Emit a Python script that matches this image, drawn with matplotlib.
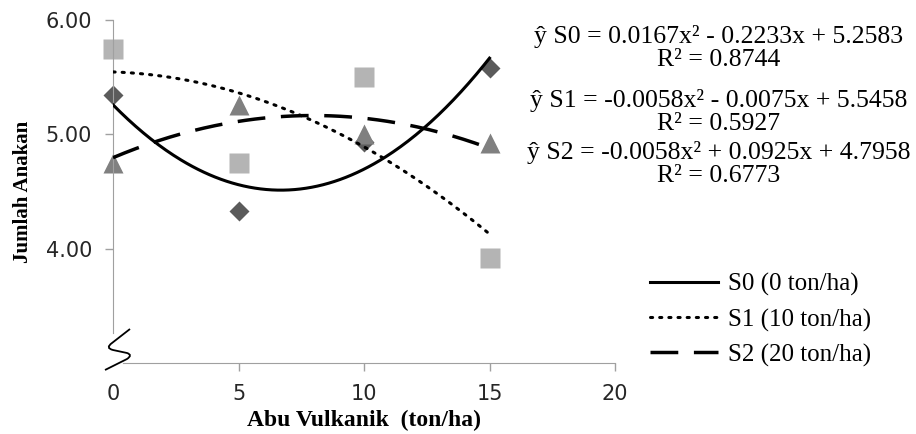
import numpy as np
import matplotlib
matplotlib.use('Agg')
import matplotlib.pyplot as plt
from matplotlib.path import Path
from matplotlib.patches import PathPatch

# =============================================================================
# Data
# =============================================================================

abu = [0, 5, 10, 15]                       # Abu Vulkanik (ton/ha)
s0 = [5.34, 4.33, 4.93, 5.58]             # S0 (0 ton/ha)
s1 = [5.75, 4.75, 5.50, 3.92]             # S1 (10 ton/ha)
s2 = [4.75, 5.26, 5.00, 4.92]             # S2 (20 ton/ha)

# quadratic trend lines (a, b, c) as printed on the chart
coef_s0 = [0.0167, -0.2233, 5.2583]
coef_s1 = [-0.0058, -0.0075, 5.5458]
coef_s2 = [-0.0058, 0.0925, 4.7958]

eq_lines = ['ŷ S0 = 0.0167x² - 0.2233x + 5.2583', 'R² = 0.8744',
            'ŷ S1 = -0.0058x² - 0.0075x + 5.5458', 'R² = 0.5927',
            'ŷ S2 = -0.0058x² + 0.0925x + 4.7958', 'R² = 0.6773']
labels = ['S0 (0 ton/ha)', 'S1 (10 ton/ha)', 'S2 (20 ton/ha)']

x_ticks = [0, 5, 10, 15, 20]
y_ticks = [4.0, 5.0, 6.0]

# =============================================================================
# Plot
# =============================================================================

W, H = 916, 434
fig = plt.figure(figsize=(W / 100, H / 100), dpi=100)
ax_l, ax_b = 113 / W, 1 - 363 / H
ax = fig.add_axes([ax_l, ax_b, (615 - 113) / W, (363 - 20) / H])

serif = 'Liberation Serif'
axis_col = '#a0a0a0'

ax.plot(abu, s0, 'D', ms=10.5, color='#5b5b5b', mec='none', zorder=2,
        clip_on=False)
ax.plot(abu, s1, 's', ms=14, color='#b4b4b4', mec='none', zorder=2,
        clip_on=False)
ax.plot(abu, s2, '^', ms=15, color='#808080', mec='none', zorder=2,
        clip_on=False)

xx = np.linspace(0, 15, 200)
l0, = ax.plot(xx, np.polyval(coef_s0, xx), color='black', lw=2.2, zorder=3)
l1, = ax.plot(xx, np.polyval(coef_s1, xx), color='black', lw=2.2, zorder=3,
              dashes=(0.7, 2.3), dash_capstyle='round')
l2, = ax.plot(xx, np.polyval(coef_s2, xx), color='black', lw=2.5, zorder=3,
              dashes=(8, 4.5))

ax.set_xlim(0, 20)
ax.set_ylim(3.0, 6.0)
ax.set_xticks(x_ticks)
ax.set_yticks(y_ticks)
ax.set_yticklabels([f'{v:.2f}' for v in y_ticks])
ax.tick_params(axis='both', colors=axis_col, labelcolor='#262626',
               labelsize=15, length=6, width=1)
ax.tick_params(axis='x', pad=9)
ax.tick_params(axis='y', pad=9)
ax.xaxis.get_major_ticks()[0].tick1line.set_visible(False)

for side in ['top', 'right']:
    ax.spines[side].set_visible(False)
ax.spines['left'].set_color(axis_col)
ax.spines['bottom'].set_color(axis_col)
ax.spines['left'].set_bounds(3.26, 6.0)
ax.spines['bottom'].set_bounds(0.4, 20)

# axis break mark (pixel offsets from axes origin)
pts = [(17, 34), (-1, 20), (-8, 15), (0, 13), (14, 10), (20, 8), (14, 4), (-8, -7)]
codes = [Path.MOVETO, Path.LINETO, Path.CURVE3, Path.CURVE3,
         Path.LINETO, Path.CURVE3, Path.CURVE3, Path.LINETO]
verts = [(ax_l + px / W, ax_b + py / H) for px, py in pts]
fig.add_artist(PathPatch(Path(verts, codes), fill=False, lw=1.3,
                         edgecolor='black', transform=fig.transFigure,
                         clip_on=False))

ax.set_xlabel('Abu Vulkanik  (ton/ha)', family=serif, weight='bold',
              fontsize=17, labelpad=4)
ax.set_ylabel('Jumlah Anakan', family=serif, weight='bold', fontsize=15,
              labelpad=9)

# trend equations
eq_y = [36, 60, 100, 124, 152, 176]
for txt, py in zip(eq_lines, eq_y):
    fig.text(719 / W, 1 - py / H, txt, family=serif, fontsize=18.5,
             ha='center', va='center')

leg = ax.legend([l0, l1, l2], labels, loc='center left',
                bbox_to_anchor=(650 / W, 1 - 320 / H),
                bbox_transform=fig.transFigure, frameon=False,
                prop={'family': serif, 'size': 18}, handlelength=2.7,
                handletextpad=0.4, labelspacing=0.48, borderpad=0,
                borderaxespad=0)

fig.savefig('out.png', dpi=100)
